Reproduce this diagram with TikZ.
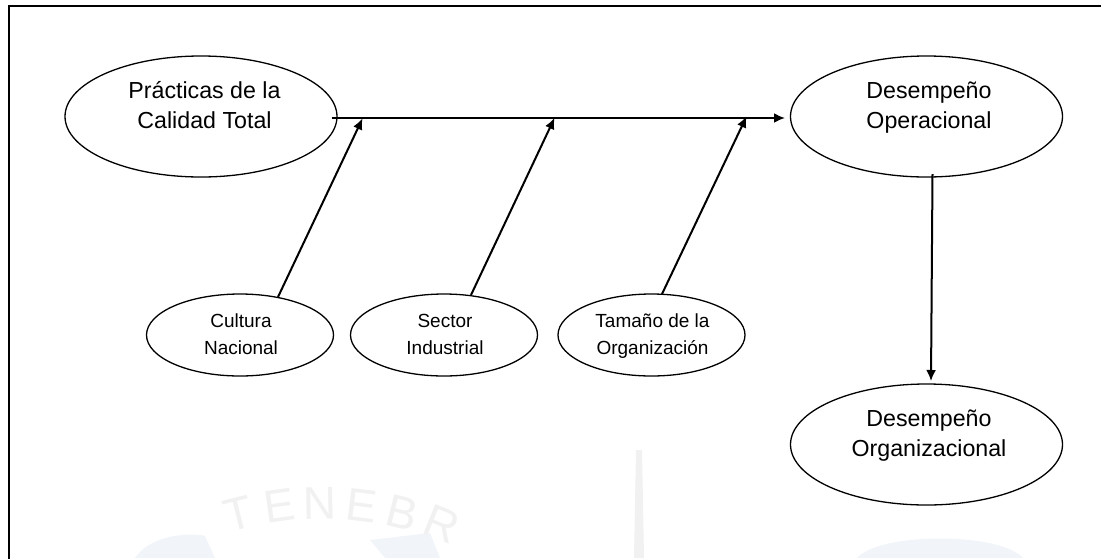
\documentclass[tikz,border=0pt]{standalone}
\usepackage{fontspec}
\setmainfont{Liberation Sans}
\usetikzlibrary{shapes.geometric,arrows.meta}
\newcommand{\elltext}[3]{\hspace*{#1}\raisebox{#2}[0pt][0pt]{\begin{tabular}[c]{@{}c@{}}#3\end{tabular}}}
\definecolor{wmgray}{HTML}{F1F1F2}
\definecolor{wmblue}{HTML}{F1F5F9}
\tikzset{
  bigell/.style={draw=black,line width=1.3pt,ellipse,minimum width=272pt,minimum height=121pt,inner sep=0pt,align=center,font=\fontsize{23.2}{30}\selectfont},
  smallell/.style={draw=black,line width=1.3pt,ellipse,minimum width=187pt,minimum height=82pt,inner sep=0pt,align=center,font=\fontsize{19}{27}\selectfont},
  conn/.style={draw=black,line width=2pt,-{Latex[length=11pt,width=10pt]}},
  wmark/.style={text=wmgray,inner sep=0pt,font=\fontsize{46}{46}\selectfont},
}
\begin{document}
\begin{tikzpicture}[x=1pt,y=-1pt]
\useasboundingbox (0,0) rectangle (1101,558);
\fill[white] (0,0) rectangle (1101,558);
% faint watermark
\fill[wmblue] (857,558) .. controls (880,532) and (1000,532) .. (1023,558) -- cycle;
\fill[wmblue] (135,558) .. controls (150,535) and (190,532) .. (205,536) -- (215,558) -- cycle;
\fill[wmblue] (370,540) -- (430,533) -- (440,558) -- (385,558) -- cycle;
\fill[wmgray] (636,450) -- (642,450) -- (644,558) -- (634,558) -- cycle;
\node[wmark,rotate=14] (w1) at (238,514) {T};
\node[wmark,rotate=8] (w2) at (279,506) {E};
\node[wmark,rotate=1] (w3) at (320,503) {N};
\node[wmark,rotate=-7] (w4) at (362,506) {E};
\node[wmark,rotate=-14] (w5) at (402,513) {B};
\node[wmark,rotate=-22] (w6) at (442,524) {R};
% frame
\draw[line width=1.4pt] (9,560) -- (9,6) -- (1103,6);
\node[bigell] (pct) at (201,116.5) {\elltext{7pt}{3pt}{Prácticas de la\\Calidad Total}};
\node[bigell] (dop) at (926.5,116.5) {\elltext{5pt}{3pt}{Desempeño\\Operacional}};
\node[bigell] (dor) at (926.5,444.5) {\elltext{5pt}{3pt}{Desempeño\\Organizacional}};
\node[smallell] (cn) at (240,335) {\elltext{2pt}{-5pt}{Cultura\\Nacional}};
\node[smallell] (si) at (444,335) {\elltext{2pt}{-5pt}{Sector\\Industrial}};
\node[smallell] (to) at (651.5,335) {\elltext{2pt}{-5pt}{Tamaño de la\\Organización}};
\coordinate (m0) at (331.5,118);
\coordinate (m1) at (785,118);
\coordinate (a1) at (362.5,118.5);
\coordinate (a2) at (554.5,118);
\coordinate (a3) at (746.5,116.5);
\coordinate (v0) at (932.5,174);
\coordinate (v1) at (931,381);
\coordinate (s1) at (278,297);
\coordinate (s2) at (471,295);
\coordinate (s3) at (662,294);
\draw[conn] (m0) -- (m1);
\draw[conn] (s1) -- (a1);
\draw[conn] (s2) -- (a2);
\draw[conn] (s3) -- (a3);
\draw[conn] (v0) -- (v1);
\end{tikzpicture}
\end{document}
